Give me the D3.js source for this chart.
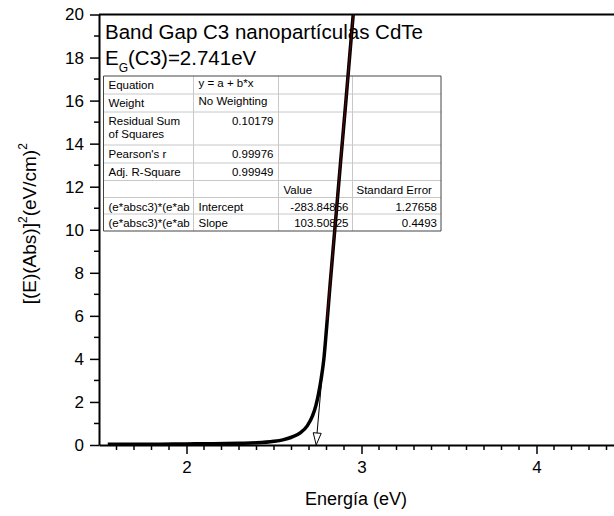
<!DOCTYPE html>
<html>
<head>
<meta charset="utf-8">
<script src="https://cdn.jsdelivr.net/npm/d3@7"></script>
<style>
html, body { margin: 0; background: #fff; overflow: hidden; }
svg { display: block; font-family: "Liberation Sans", Arial, sans-serif; }
</style>
</head>
<body>
<div id="chart"></div>
<script>
// curve
var energy = [1.55, 1.7, 1.85, 2.0, 2.15, 2.3, 2.4, 2.5, 2.55, 2.6, 2.65, 2.69, 2.72, 2.74, 2.755, 2.77, 2.785, 2.8, 2.82, 2.85, 2.88, 2.91, 2.94, 2.96];
var absorb = [0.03, 0.03, 0.04, 0.05, 0.06, 0.08, 0.1, 0.17, 0.24, 0.36, 0.56, 0.89, 1.35, 1.85, 2.4, 3.1, 4.0, 5.4, 7.4, 10.25, 13.1, 15.9, 18.8, 20.7];

// fit line (as drawn) and gap arrow
var fitE = [2.741, 2.953];
var fitV = [0, 20];
var arrowFrom = 5.8;

var xTicks = [2, 3, 4];
var yTicks = [0, 2, 4, 6, 8, 10, 12, 14, 16, 18, 20];

var titleLine1 = "Band Gap C3 nanopartículas CdTe";
var gapValue = "2.741";

var tableLabels = ["Equation", "Weight", "Residual Sum|of Squares", "Pearson's r", "Adj. R-Square", "", "(e*absc3)*(e*ab", "(e*absc3)*(e*ab"];
var tableCol2 = ["y = a + b*x", "No Weighting", "0.10179", "0.99976", "0.99949", "", "Intercept", "Slope"];
var tableCol3 = ["", "", "", "", "", "Value", "-283.84856", "103.50825"];
var tableCol4 = ["", "", "", "", "", "Standard Error", "1.27658", "0.4493"];

var width = 614, height = 516;

var x = d3.scaleLinear().domain([1.5, 4.5]).range([99, 624]);
var y = d3.scaleLinear().domain([0, 20]).range([445, 14.5]);

var svg = d3.select("#chart").append("svg")
    .attr("width", width)
    .attr("height", height);

svg.append("defs").append("clipPath").attr("id", "plotclip")
    .append("rect")
    .attr("x", x(1.5)).attr("y", y(20))
    .attr("width", x(4.5) - x(1.5)).attr("height", y(0) - y(20));

// top frame
svg.append("line")
    .attr("x1", x(1.5)).attr("x2", x(4.5))
    .attr("y1", y(20)).attr("y2", y(20))
    .attr("stroke", "#000").attr("stroke-width", 2);

// x axis
var xAxis = d3.axisBottom(x).tickValues(xTicks).tickSize(9).tickSizeOuter(0).tickFormat(d3.format("d"));
var gx = svg.append("g").attr("transform", `translate(0,${y(0)})`).call(xAxis);
gx.select(".domain").attr("stroke-width", 2);
gx.selectAll(".tick line").attr("stroke-width", 1.5);
gx.selectAll(".tick text").attr("font-size", 17).attr("dy", 0).attr("y", 28).attr("fill", "#000");
gx.selectAll(".minor").data(d3.range(16, 45).map(d => d / 10).filter(d => !xTicks.includes(d)))
    .join("line").attr("class", "minor")
    .attr("x1", d => x(d)).attr("x2", d => x(d))
    .attr("y1", 0).attr("y2", 5)
    .attr("stroke", "#000").attr("stroke-width", 1.5);

// y axis
var yAxis = d3.axisLeft(y).tickValues(yTicks).tickSize(9).tickSizeOuter(0);
var gy = svg.append("g").attr("transform", `translate(${x(1.5)},0)`).call(yAxis);
gy.select(".domain").attr("stroke-width", 2);
gy.selectAll(".tick line").attr("stroke-width", 1.5);
gy.selectAll(".tick text").attr("font-size", 17).attr("x", -15).attr("fill", "#000");
gy.selectAll(".minor").data(d3.range(1, 20, 2))
    .join("line").attr("class", "minor")
    .attr("y1", d => y(d)).attr("y2", d => y(d))
    .attr("x1", 0).attr("x2", -5)
    .attr("stroke", "#000").attr("stroke-width", 1.5);

// axis titles
svg.append("text")
    .attr("x", 356).attr("y", 505)
    .attr("text-anchor", "middle")
    .attr("font-size", 18)
    .text("Energía (eV)");

var yl = svg.append("text")
    .attr("transform", `translate(36,${(y(0) + y(20)) / 2 - 6}) rotate(-90)`)
    .attr("text-anchor", "middle")
    .attr("font-size", 19);
yl.append("tspan").text("[(E)(Abs)]");
yl.append("tspan").attr("font-size", 12).attr("dy", -9).text("2");
yl.append("tspan").attr("dy", 9).text("(eV/cm)");
yl.append("tspan").attr("font-size", 12).attr("dy", -9).text("2");

// title
svg.append("text").attr("x", 105).attr("y", 39).attr("font-size", 20.5).text(titleLine1);
var t2 = svg.append("text").attr("x", 105).attr("y", 65).attr("font-size", 20.5);
t2.append("tspan").text("E");
t2.append("tspan").attr("font-size", 12).attr("dy", 7).text("G");
t2.append("tspan").attr("dy", -7).text("(C3)=" + gapValue + "eV");

// fit table
var colX = [103.5, 193.5, 278.5, 352.5, 441];
var rowY = [76, 94, 112, 145, 163, 180.5, 197.5, 214, 231];
var tbl = svg.append("g");
rowY.slice(1, -1).forEach(ry => {
    tbl.append("line").attr("x1", colX[0]).attr("x2", colX[4])
        .attr("y1", ry).attr("y2", ry).attr("stroke", "#c8c8c8").attr("stroke-width", 1);
});
colX.slice(1, -1).forEach(cx => {
    tbl.append("line").attr("x1", cx).attr("x2", cx)
        .attr("y1", rowY[0]).attr("y2", rowY[8]).attr("stroke", "#c8c8c8").attr("stroke-width", 1);
});
tbl.append("path")
    .attr("d", `M${colX[0]},${rowY[0]}H${colX[4]}V${rowY[8]}H${colX[0]}Z`)
    .attr("fill", "none").attr("stroke", "#444").attr("stroke-width", 1);

var fs = 11.5;
tableLabels.forEach((s, i) => {
    s.split("|").forEach((part, j) => {
        tbl.append("text").attr("x", colX[0] + 5).attr("y", rowY[i] + 13 + j * 13)
            .attr("font-size", fs).text(part);
    });
});
tableCol2.forEach((s, i) => {
    var rightAlign = i >= 2 && i <= 4;
    tbl.append("text")
        .attr("x", rightAlign ? colX[2] - 5 : colX[1] + 5)
        .attr("y", rowY[i] + (i < 2 ? 11 : 13))
        .attr("text-anchor", rightAlign ? "end" : "start")
        .attr("font-size", fs).text(s);
});
tableCol3.forEach((s, i) => {
    tbl.append("text")
        .attr("x", i === 5 ? colX[2] + 5 : colX[3] - 4)
        .attr("y", rowY[i] + 13)
        .attr("text-anchor", i === 5 ? "start" : "end")
        .attr("font-size", fs).text(s);
});
tableCol4.forEach((s, i) => {
    tbl.append("text")
        .attr("x", i === 5 ? colX[3] + 4 : colX[4] - 4)
        .attr("y", rowY[i] + 13)
        .attr("text-anchor", i === 5 ? "start" : "end")
        .attr("font-size", fs).text(s);
});

// data curve
var plot = svg.append("g").attr("clip-path", "url(#plotclip)");
var pts = energy.map((e, i) => [e, absorb[i]]);
plot.append("path")
    .datum(pts)
    .attr("d", d3.line().x(d => x(d[0])).y(d => y(d[1])).curve(d3.curveMonotoneX))
    .attr("fill", "none")
    .attr("stroke", "#000")
    .attr("stroke-width", 3.5);

// fit line (dark red over the curve) and arrow down to the gap
var fitAt = v => fitE[0] + (v - fitV[0]) / (fitV[1] - fitV[0]) * (fitE[1] - fitE[0]);
plot.append("line")
    .attr("x1", x(fitAt(arrowFrom))).attr("y1", y(arrowFrom))
    .attr("x2", x(fitE[1])).attr("y2", y(fitV[1]))
    .attr("stroke", "#5a0808").attr("stroke-width", 1);

var ax0 = x(fitAt(arrowFrom)), ay0 = y(arrowFrom), ax1 = x(fitE[0]), ay1 = y(fitV[0]);
svg.append("line")
    .attr("x1", ax0).attr("y1", ay0).attr("x2", ax1).attr("y2", ay1 - 2)
    .attr("stroke", "#000").attr("stroke-width", 1);
var ang = Math.atan2(ay1 - ay0, ax1 - ax0);
var hl = 12, hw = 4;
var bx = ax1 - hl * Math.cos(ang), by = ay1 - hl * Math.sin(ang);
svg.append("path")
    .attr("d", `M${ax1},${ay1}L${bx - hw * Math.sin(ang)},${by + hw * Math.cos(ang)}L${bx + hw * Math.sin(ang)},${by - hw * Math.cos(ang)}Z`)
    .attr("fill", "#fff").attr("stroke", "#000").attr("stroke-width", 1);
</script>
</body>
</html>
